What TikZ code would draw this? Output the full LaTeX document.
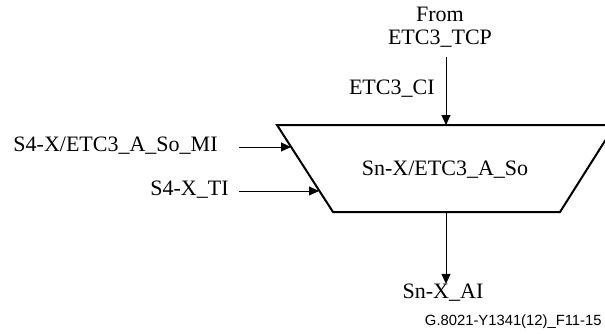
\documentclass[tikz,border=0pt]{standalone}
\usepackage{fontspec}
\setmainfont{Liberation Serif}
\setsansfont{Liberation Sans}
\usetikzlibrary{positioning,calc}
\usetikzlibrary{arrows.meta}
\tikzset{lab/.style={inner sep=0pt,font=\fontsize{11}{11.5}\selectfont}, sig/.style={-{Triangle[length=5pt,width=4.5pt]},line width=0.5pt}, block/.style={draw=black,line width=1pt,line join=miter}}

\begin{document}
\begin{tikzpicture}[x=0.5pt,y=-0.5pt]
\useasboundingbox (0,0) rectangle (605,333);
\coordinate (ta) at (277,125);
\coordinate (tb) at (615,125);
\coordinate (tc) at (560,212);
\coordinate (td) at (333,212);
\coordinate (tin) at (446,125);
\coordinate (tout) at (446,212);
\draw[block] (ta)--(tb)--(tc)--(td)--cycle;
\node[lab] (fn) at (445,170) {Sn-X/ETC3\_A\_So};
% top input
\node[lab,align=center] (src) at (440,27) {From\\ETC3\_TCP};
\node[lab,anchor=east] (ci) at (435,89) {ETC3\_CI};
\coordinate (cis) at (446,57);
\draw[sig] (cis)--(tin);
% left inputs
\node[lab,anchor=east] (mi) at (218,146) {S4-X/ETC3\_A\_So\_MI};
\node[lab,anchor=east] (ti) at (229,190) {S4-X\_TI};
\coordinate (mis) at (239,147);
\coordinate (mie) at (291,147);
\coordinate (tis) at (239,191);
\coordinate (tie) at (319,191);
\draw[sig] (mis)--(mie);
\draw[sig] (tis)--(tie);
% output
\node[lab] (ai) at (443,293) {Sn-X\_AI};
\draw[sig] (tout)--(ai.north -| tout);
\node[inner sep=0pt,anchor=east,font=\sffamily\fontsize{7.4}{8}\selectfont] (ref) at (602,322) {G.8021-Y1341(12)\_F11-15};
\end{tikzpicture}
\end{document}
